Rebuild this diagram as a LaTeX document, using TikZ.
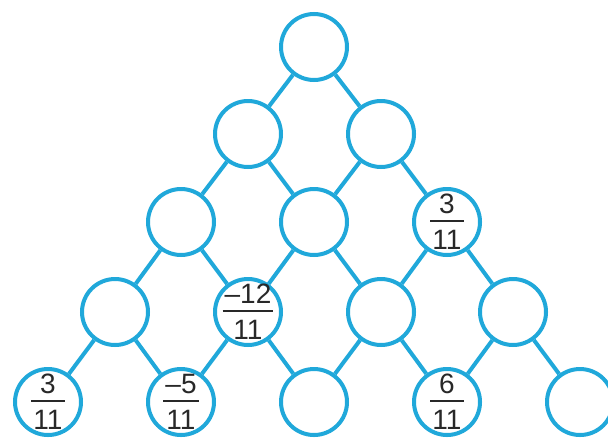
\documentclass[tikz,border=0pt]{standalone}
\usepackage{fontspec}
\setmainfont{Liberation Sans}
\setlength{\arrayrulewidth}{1pt}
\definecolor{ringblue}{RGB}{32,168,218}
\definecolor{numgray}{RGB}{40,40,40}
\usetikzlibrary{positioning}

\newcommand{\fr}[2]{\fontsize{14}{16}\selectfont
  \begin{tabular}{@{\hspace{1pt}}c@{\hspace{1pt}}}#1\\[-1.3pt]\hline\rule{0pt}{13.5pt}#2\end{tabular}}

\begin{document}
\begin{tikzpicture}[x=0.5pt, y=-0.5pt,
    ring/.style={circle, draw=ringblue, fill=white, line width=2pt,
                 minimum size=33pt, inner sep=0pt},
    every label/.style={text=numgray, inner sep=0pt, yshift=-1.5pt},
    link/.style={draw=ringblue, line width=2pt}
  ]
    \useasboundingbox (0,0) rectangle (608,439);

    % --- Row 1 ---
    \node[ring] (r11) at (314,47) {};

    % --- Row 2 ---
    \node[ring] (r21) at (248,134) {};
    \node[ring] (r22) at (381,134) {};

    % --- Row 3 ---
    \node[ring] (r31) at (181,222) {};
    \node[ring] (r32) at (314,222) {};
    \node[ring, label=center:{\fr{3}{11}}] (r33) at (447,222) {};

    % --- Row 4 ---
    \node[ring] (r41) at (115,312) {};
    \node[ring, label=center:{\fr{–12}{11}}] (r42) at (248,312) {};
    \node[ring] (r43) at (381,312) {};
    \node[ring] (r44) at (513,312) {};

    % --- Row 5 ---
    \node[ring, label=center:{\fr{3}{11}}] (r51) at (48,402) {};
    \node[ring, label=center:{\fr{–5}{11}}] (r52) at (181,402) {};
    \node[ring] (r53) at (314,402) {};
    \node[ring, label=center:{\fr{6}{11}}] (r54) at (447,402) {};
    \node[ring] (r55) at (580,402) {};

    % Links
    \draw[link] (r11) -- (r21);  \draw[link] (r11) -- (r22);
    \draw[link] (r21) -- (r31);  \draw[link] (r21) -- (r32);
    \draw[link] (r22) -- (r32);  \draw[link] (r22) -- (r33);
    \draw[link] (r31) -- (r41);  \draw[link] (r31) -- (r42);
    \draw[link] (r32) -- (r42);  \draw[link] (r32) -- (r43);
    \draw[link] (r33) -- (r43);  \draw[link] (r33) -- (r44);
    \draw[link] (r41) -- (r51);  \draw[link] (r41) -- (r52);
    \draw[link] (r42) -- (r52);  \draw[link] (r42) -- (r53);
    \draw[link] (r43) -- (r53);  \draw[link] (r43) -- (r54);
    \draw[link] (r44) -- (r54);  \draw[link] (r44) -- (r55);
  \end{tikzpicture}
\end{document}
